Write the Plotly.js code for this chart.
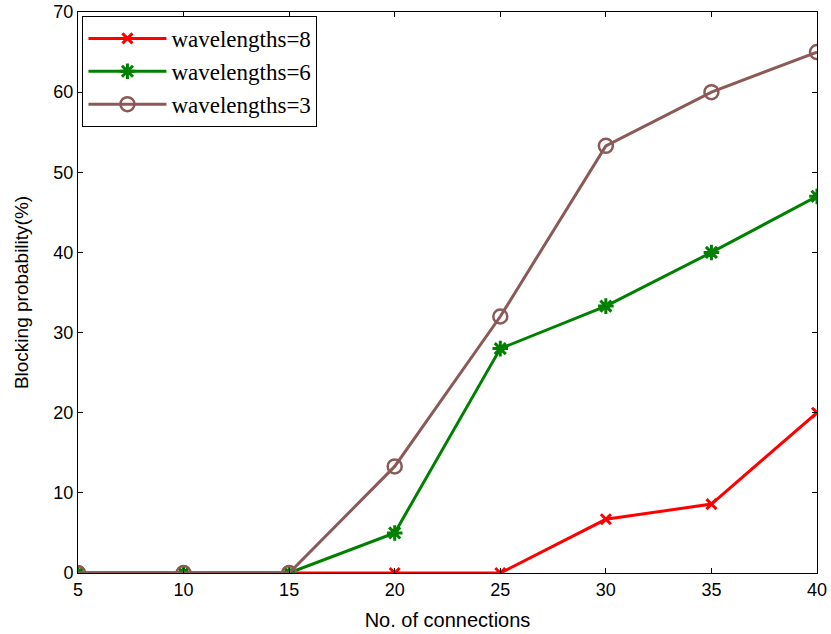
<!DOCTYPE html>
<html>
<head>
<meta charset="utf-8">
<script src="https://cdn.plot.ly/plotly-3.0.1.min.js"></script>
<style>html,body{margin:0;padding:0;background:#fff;}#chart{width:831px;height:634px;}</style>
</head>
<body>
<div id="chart"></div>
<script>
const connections = [5, 10, 15, 20, 25, 30, 35, 40];
const wl8 = [0, 0, 0, 0, 0, 6.7, 8.6, 20];
const wl6 = [0, 0, 0, 5, 28, 33.3, 40, 47];
const wl3 = [0, 0, 0, 13.3, 32, 53.3, 60, 65];
const seriesNames = ['wavelengths=8', 'wavelengths=6', 'wavelengths=3'];
const xTicks = [5, 10, 15, 20, 25, 30, 35, 40];
const yTicks = [0, 10, 20, 30, 40, 50, 60, 70];

const traces = [
  {x: connections, y: wl8, name: seriesNames[0], mode: 'lines+markers',
   line: {color: '#ff0000', width: 3},
   marker: {symbol: 'x-thin-open', size: 10, line: {color: '#ff0000', width: 3}}},
  {x: connections, y: wl6, name: seriesNames[1], mode: 'lines+markers',
   line: {color: '#008000', width: 3},
   marker: {symbol: 'asterisk-open', size: 13, line: {color: '#008000', width: 3}}},
  {x: connections, y: wl3, name: seriesNames[2], mode: 'lines+markers',
   line: {color: '#8c5a56', width: 3},
   marker: {symbol: 'circle-open', size: 14, color: '#8c5a56', line: {color: '#8c5a56', width: 2.5}}}
];

const axisCommon = {
  showline: true, linecolor: '#000', linewidth: 1, mirror: 'allticks',
  ticks: 'inside', ticklen: 5, tickcolor: '#000', tickwidth: 1,
  showgrid: false, zeroline: false,
  tickfont: {family: 'Liberation Sans, Arial, sans-serif', size: 18, color: '#000'}
};

const layout = {
  width: 831, height: 634,
  margin: {l: 78, r: 14, t: 12, b: 61},
  paper_bgcolor: '#fff', plot_bgcolor: '#fff',
  showlegend: true,
  xaxis: Object.assign({}, axisCommon, {
    range: [5, 40], tickvals: xTicks,
    title: {text: 'No. of connections', standoff: 14,
      font: {family: 'Liberation Sans, Arial, sans-serif', size: 20, color: '#000'}}
  }),
  yaxis: Object.assign({}, axisCommon, {
    range: [0, 70], tickvals: yTicks,
    title: {text: 'Blocking probability(%)', standoff: 19,
      font: {family: 'Liberation Sans, Arial, sans-serif', size: 19, color: '#000'}}
  }),
  legend: {
    x: 0.006, y: 0.993, xanchor: 'left', yanchor: 'top',
    bgcolor: '#fff', bordercolor: '#000', borderwidth: 1,
    font: {family: 'Liberation Serif, Times New Roman, serif', size: 23, color: '#000'},
    itemwidth: 78, tracegroupgap: 0
  }
};

Plotly.newPlot('chart', traces, layout, {displayModeBar: false, staticPlot: true});
</script>
</body>
</html>
